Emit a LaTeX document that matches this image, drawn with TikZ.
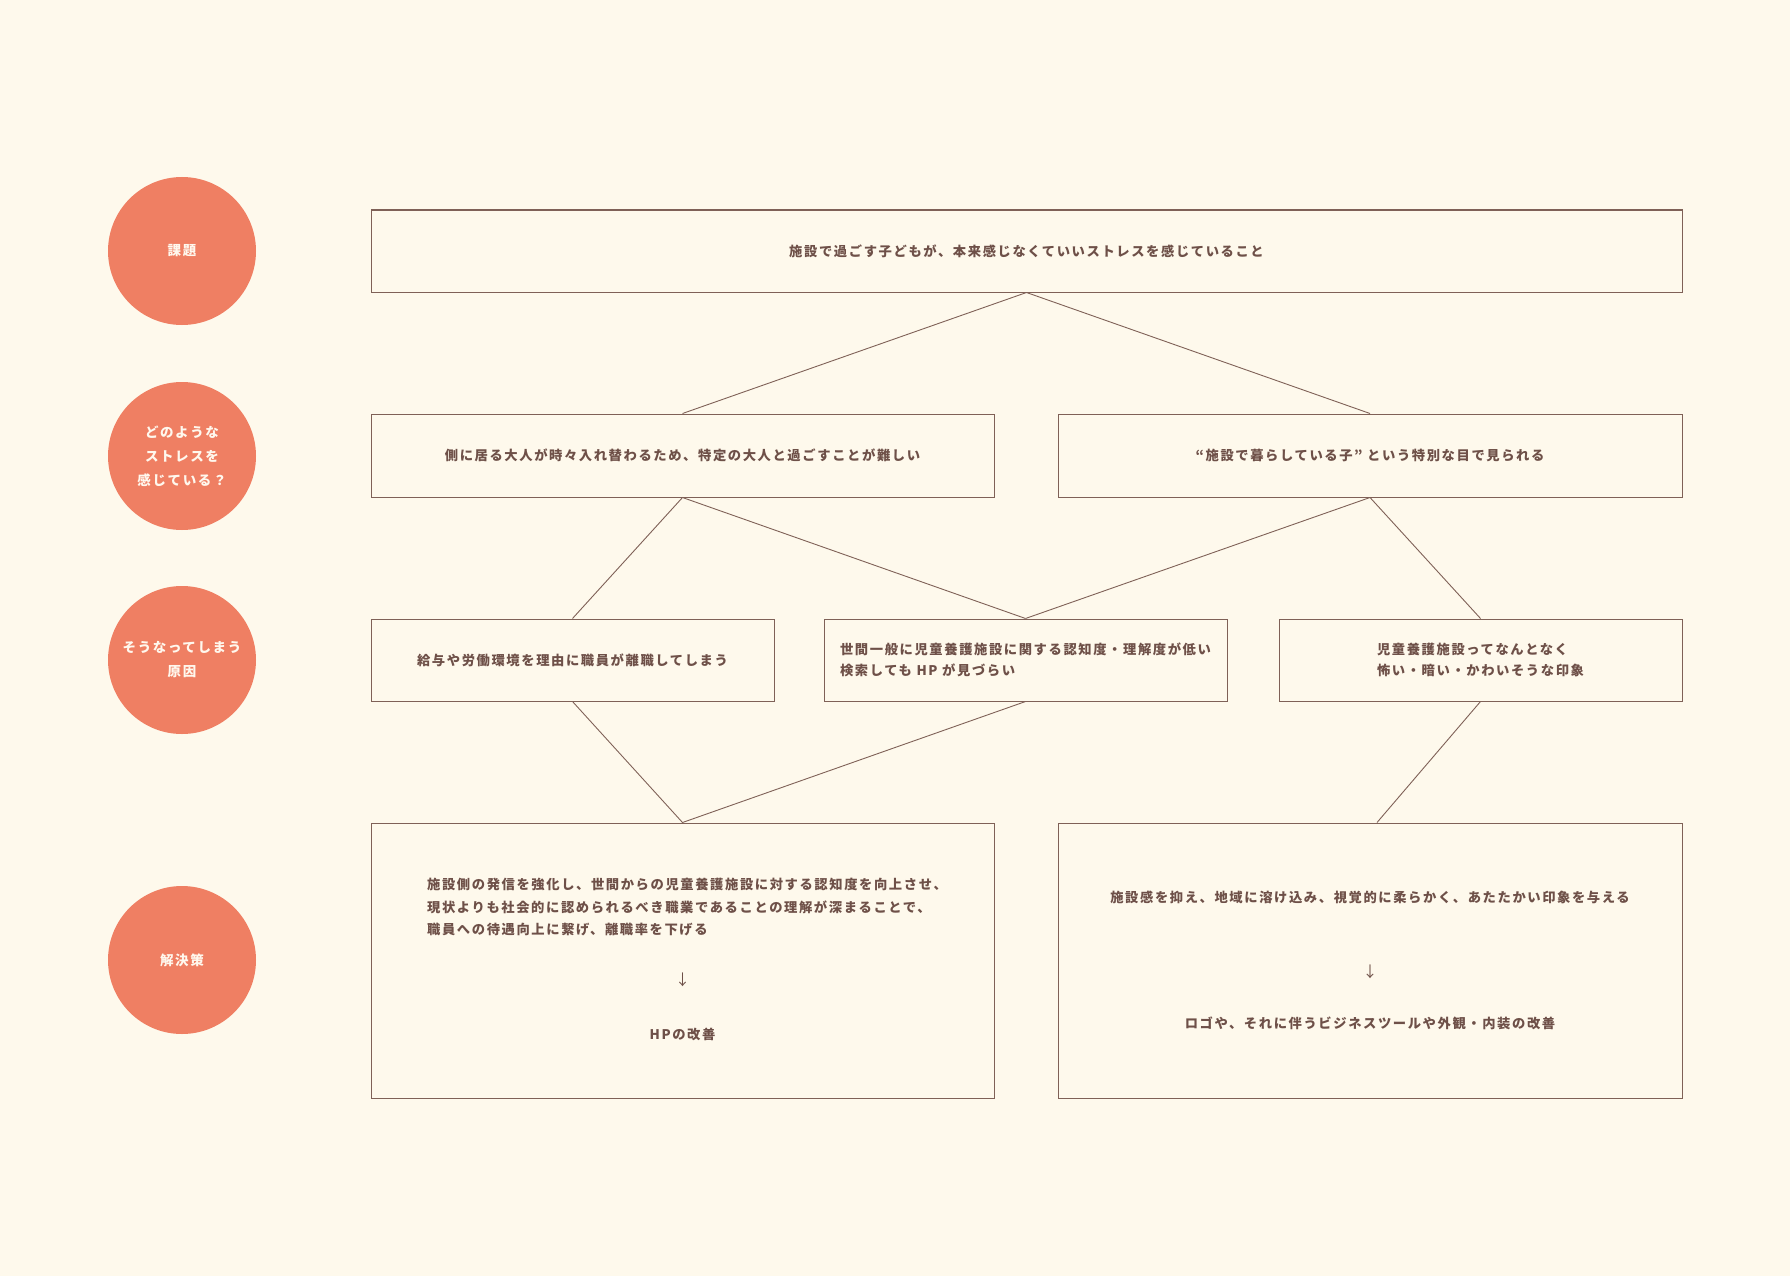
\documentclass[tikz,border=0pt]{standalone}
\usepackage{fontspec}
\newfontfamily\jp{Noto Sans CJK JP}[LetterSpace=12]
\definecolor{bg}{HTML}{FEF9EC}
\definecolor{circ}{HTML}{EF7F63}
\definecolor{txt}{HTML}{6E5048}
\definecolor{edge}{HTML}{7F6157}
\definecolor{wt}{HTML}{FFF8EE}
\usetikzlibrary{calc}
\tikzset{
  box/.style={draw=edge, line width=1pt, inner sep=0pt, text=txt, align=center,
    font=\jp\bfseries\fontsize{13.3}{21}\selectfont},
  conn/.style={draw=edge, line width=0.9pt},
  blobnode/.style={circle, fill=circ, minimum size=148pt, inner sep=0pt, text=wt, align=center,
    font=\jp\bfseries\fontsize{13.5}{24}\selectfont},
  btext/.style={text=txt, inner sep=0pt, font=\jp\bfseries\fontsize{13.3}{22.5}\selectfont},
  arrtext/.style={text=txt, inner sep=0pt, font=\jp\fontsize{15}{18}\selectfont},
}
\begin{document}
\begin{tikzpicture}[x=1pt,y=-1pt]
\useasboundingbox[fill=bg] (0,0) rectangle (1790,1276);
% circles
\node[blobnode] (c1) at (182,251) {課題};
\node[blobnode] (c2) at (182,456) {どのような\\ストレスを\\感じている？};
\node[blobnode] (c3) at (182,660) {そうなってしまう\\原因};
\node[blobnode] (c4) at (182,960) {解決策};
% boxes
\node[box, minimum width=1311pt, minimum height=82pt] (top) at (1026.5,251)
  {施設で過ごす子どもが、本来感じなくていいストレスを感じていること};
\node[box, minimum width=623pt, minimum height=83pt] (r2l) at (682.5,455.5)
  {側に居る大人が時々入れ替わるため、特定の大人と過ごすことが難しい};
\node[box, minimum width=624pt, minimum height=83pt] (r2r) at (1370,455.5)
  {“施設で暮らしている子”\ という特別な目で見られる};
\node[box, minimum width=403pt, minimum height=82pt] (r3a) at (572.5,660)
  {給与や労働環境を理由に職員が離職してしまう};
\node[box, minimum width=403pt, minimum height=82pt, align=left] (r3b) at (1025.5,660)
  {世間一般に児童養護施設に関する認知度・理解度が低い\\検索しても HP が見づらい};
\node[box, minimum width=403pt, minimum height=82pt, align=left] (r3c) at (1480.5,660)
  {児童養護施設ってなんとなく\\怖い・暗い・かわいそうな印象};
\node[box, minimum width=623pt, minimum height=275pt] (r4l) at (682.5,960.5) {};
\node[box, minimum width=624pt, minimum height=275pt] (r4r) at (1370,960.5) {};
% row 4 texts
\node[btext, anchor=north west, align=left] (t4a) at (427,878)
  {施設側の発信を強化し、世間からの児童養護施設に対する認知度を向上させ、\\現状よりも社会的に認められるべき職業であることの理解が深まることで、\\職員への待遇向上に繋げ、離職率を下げる};
\node[arrtext] (a4l) at (682.5,980) {↓};
\node[btext] (t4b) at (682.5,1034) {HPの改善};
\node[btext] (t4c) at (1370,897) {施設感を抑え、地域に溶け込み、視覚的に柔らかく、あたたかい印象を与える};
\node[arrtext] (a4r) at (1370,972) {↓};
\node[btext] (t4d) at (1370,1023) {ロゴや、それに伴うビジネスツールや外観・内装の改善};
% connectors
\draw[conn] (r2l.north) -- (top.south) -- (r2r.north);
\draw[conn] (r3a.north) -- (r2l.south) -- (r3b.north);
\draw[conn] (r3b.north) -- (r2r.south) -- (r3c.north);
\draw[conn] (r3a.south) -- (r4l.north) -- (r3b.south);
\draw[conn] (r3c.south) -- ($(r4r.north)+(7,0)$);
\end{tikzpicture}
\end{document}
